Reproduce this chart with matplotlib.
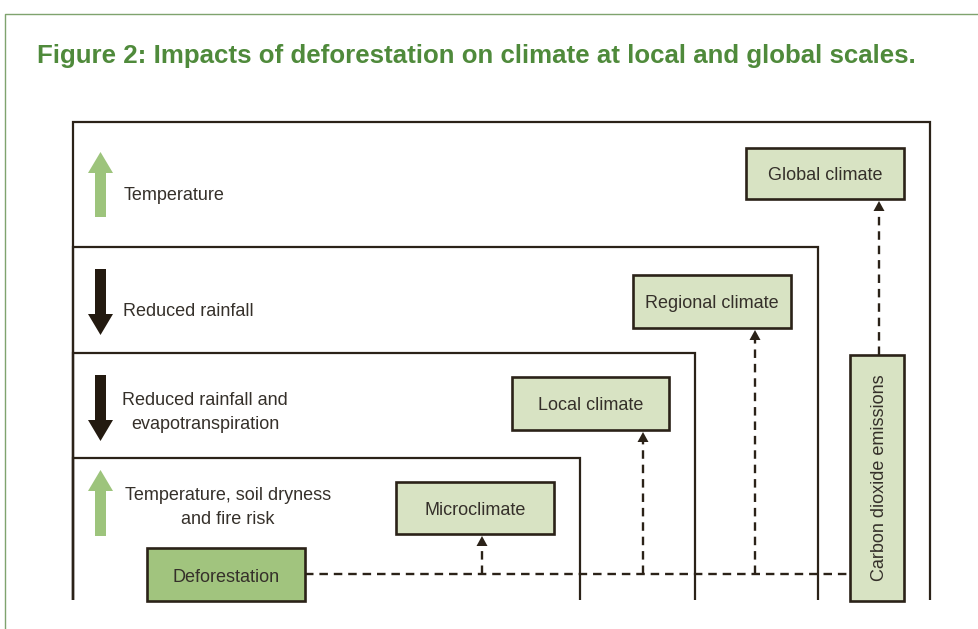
import matplotlib
matplotlib.use("Agg")
import matplotlib.pyplot as plt
from matplotlib.patches import Rectangle, Polygon

plt.rcParams['font.family'] = ['Liberation Sans', 'DejaVu Sans']

# ---- content ----
title = "Figure 2: Impacts of deforestation on climate at local and global scales."
scale_labels = ["Global climate", "Regional climate", "Local climate", "Microclimate"]
effect_labels = ["Temperature", "Reduced rainfall",
                 "Reduced rainfall and\nevapotranspiration",
                 "Temperature, soil dryness\nand fire risk"]
effect_dirs = ["up", "down", "down", "up"]
source_label = "Deforestation"
co2_label = "Carbon dioxide emissions"

# ---- layout (pixel coordinates, y downward) ----
W, H = 979, 629
DARK = "#2b2218"
TEXT = "#35302a"
GREEN_TITLE = "#4f8a3b"
FRAME = "#7fa36e"
LIGHT = "#d8e3c3"
MID = "#a1c47e"
ARROW_GREEN = "#9dc47c"
FS = 13.0
DY = 2.5  # text baseline nudge

fig = plt.figure(figsize=(W / 100, H / 100), dpi=100)
ax = fig.add_axes([0, 0, 1, 1])
ax.set_xlim(0, W)
ax.set_ylim(H, 0)
ax.axis("off")

# outer frame
ax.plot([5, 5, W], [H, 14, 14], color=FRAME, lw=1.0, solid_capstyle="butt")

ax.text(37, 53 + DY, title, fontsize=18.6, fontweight="bold", color=GREEN_TITLE,
        ha="left", va="center")

# nested scale regions
bottom = 600
left = 73
tops = [122, 247, 353, 458]
rights = [930, 818, 695, 580]
for t, r in zip(tops, rights):
    ax.plot([left, left, r, r], [bottom, t, t, bottom], color=DARK, lw=1.6,
            solid_joinstyle="miter", solid_capstyle="butt")

# effect arrows and labels
arrow_spans = [(152, 217), (269, 335), (375, 441), (470, 536)]
label_pos = [(124, 193, "left"), (123, 309, "left"), (205, 410, "center"), (228, 505, "center")]
for (y0, y1), d, lab, (lx, ly, ha) in zip(arrow_spans, effect_dirs, effect_labels, label_pos):
    cx = 100.5
    sw, hw, hl = 5.5, 12.5, 21
    if d == "up":
        tip, base, col = y0, y1, ARROW_GREEN
        hb = tip + hl
    else:
        tip, base, col = y1, y0, "#231a10"
        hb = tip - hl
    pts = [(cx - sw, base), (cx - sw, hb), (cx - hw, hb), (cx, tip),
           (cx + hw, hb), (cx + sw, hb), (cx + sw, base)]
    ax.add_patch(Polygon(pts, closed=True, facecolor=col, edgecolor="none"))
    ax.text(lx, ly + DY, lab, fontsize=FS, color=TEXT, ha=ha, va="center",
            multialignment="center", linespacing=1.5)

# scale boxes
boxes = [(746, 148, 904, 199), (633, 275, 791, 328), (512, 377, 669, 430), (396, 482, 554, 534)]
for (x0, y0, x1, y1), lab in zip(boxes, scale_labels):
    ax.add_patch(Rectangle((x0, y0), x1 - x0, y1 - y0, facecolor=LIGHT,
                           edgecolor=DARK, lw=1.9, zorder=3))
    ax.text((x0 + x1) / 2, (y0 + y1) / 2 + DY, lab, fontsize=FS, color=TEXT,
            ha="center", va="center", zorder=4)

# deforestation box
dx0, dy0, dx1, dy1 = 147, 548, 305, 601
ax.add_patch(Rectangle((dx0, dy0), dx1 - dx0, dy1 - dy0, facecolor=MID,
                       edgecolor=DARK, lw=1.9, zorder=3))
ax.text((dx0 + dx1) / 2, (dy0 + dy1) / 2 + DY, source_label, fontsize=FS,
        color=TEXT, ha="center", va="center", zorder=4)

# CO2 box
cx0, cy0, cx1, cy1 = 850, 355, 904, 601
ax.add_patch(Rectangle((cx0, cy0), cx1 - cx0, cy1 - cy0, facecolor=LIGHT,
                       edgecolor=DARK, lw=1.9, zorder=3))
ax.text((cx0 + cx1) / 2 + DY, (cy0 + cy1) / 2, co2_label, fontsize=FS,
        color=TEXT, ha="center", va="center", rotation=90, zorder=4)

# dashed connections
dash = dict(color=DARK, lw=1.7, linestyle=(0, (3.6, 2.5)), zorder=2)
yh = 574
ax.plot([dx1, cx0], [yh, yh], **dash)

def up_arrow(x, y_from, y_to):
    ax.plot([x, x], [y_from, y_to + 9], **dash)
    ax.add_patch(Polygon([(x - 5.5, y_to + 12), (x + 5.5, y_to + 12), (x, y_to + 2)],
                         closed=True, facecolor=DARK, edgecolor="none", zorder=3))

up_arrow(482, yh, 534)
up_arrow(643, yh, 430)
up_arrow(755, yh, 328)
up_arrow(879, cy0, 199)

fig.savefig("out.png", dpi=100)
